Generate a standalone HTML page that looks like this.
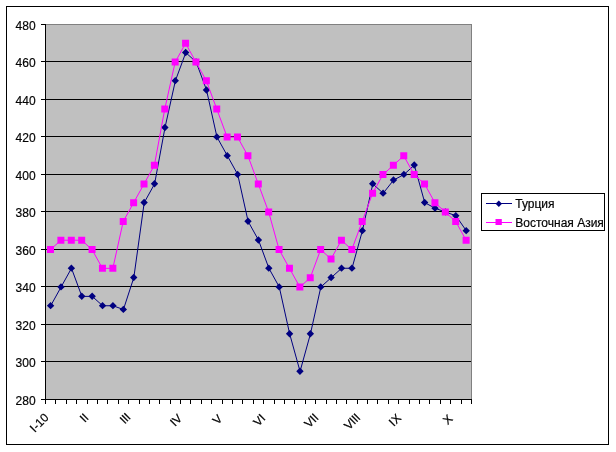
<!DOCTYPE html>
<html><head><meta charset="utf-8"><style>
html,body{margin:0;padding:0;background:#fff;width:616px;height:452px;overflow:hidden}
svg{display:block}
svg text{opacity:0.99}
svg{will-change:transform}
</style></head><body><svg width="616" height="452" viewBox="0 0 616 452"><rect x="0" y="0" width="616" height="452" fill="#fff"/><rect x="6.5" y="6.5" width="602" height="438" fill="#fff" stroke="#000" stroke-width="1"/><rect x="45" y="24" width="427" height="375" fill="#c0c0c0"/><path d="M45 24.5H471.5V399" fill="none" stroke="#808080" stroke-width="1" shape-rendering="crispEdges"/><path d="M45 61.5H471 M45 99.5H471 M45 136.5H471 M45 174.5H471 M45 211.5H471 M45 249.5H471 M45 286.5H471 M45 324.5H471 M45 361.5H471" stroke="#000" stroke-width="1" shape-rendering="crispEdges"/><path d="M45.5 24V404 M41 24.5H45 M41 61.5H45 M41 99.5H45 M41 136.5H45 M41 174.5H45 M41 211.5H45 M41 249.5H45 M41 286.5H45 M41 324.5H45 M41 361.5H45 M41 399.5H45 M45 399.5H472 M45.5 399V404 M55.5 399V404 M66.5 399V404 M76.5 399V404 M87.5 399V404 M97.5 399V404 M107.5 399V404 M118.5 399V404 M128.5 399V404 M139.5 399V404 M149.5 399V404 M159.5 399V404 M170.5 399V404 M180.5 399V404 M190.5 399V404 M201.5 399V404 M211.5 399V404 M222.5 399V404 M232.5 399V404 M242.5 399V404 M253.5 399V404 M263.5 399V404 M274.5 399V404 M284.5 399V404 M294.5 399V404 M305.5 399V404 M315.5 399V404 M326.5 399V404 M336.5 399V404 M346.5 399V404 M357.5 399V404 M367.5 399V404 M377.5 399V404 M388.5 399V404 M398.5 399V404 M409.5 399V404 M419.5 399V404 M429.5 399V404 M440.5 399V404 M450.5 399V404 M461.5 399V404 M471.5 399V404" stroke="#000" stroke-width="1" shape-rendering="crispEdges" fill="none"/><text x="35.6" y="29.5" text-anchor="end" style="font-family:'Liberation Sans',sans-serif;font-size:12px;stroke:#000;stroke-width:0.2px">480</text><text x="35.6" y="66.5" text-anchor="end" style="font-family:'Liberation Sans',sans-serif;font-size:12px;stroke:#000;stroke-width:0.2px">460</text><text x="35.6" y="104.5" text-anchor="end" style="font-family:'Liberation Sans',sans-serif;font-size:12px;stroke:#000;stroke-width:0.2px">440</text><text x="35.6" y="141.5" text-anchor="end" style="font-family:'Liberation Sans',sans-serif;font-size:12px;stroke:#000;stroke-width:0.2px">420</text><text x="35.6" y="179.5" text-anchor="end" style="font-family:'Liberation Sans',sans-serif;font-size:12px;stroke:#000;stroke-width:0.2px">400</text><text x="35.6" y="216.5" text-anchor="end" style="font-family:'Liberation Sans',sans-serif;font-size:12px;stroke:#000;stroke-width:0.2px">380</text><text x="35.6" y="254.5" text-anchor="end" style="font-family:'Liberation Sans',sans-serif;font-size:12px;stroke:#000;stroke-width:0.2px">360</text><text x="35.6" y="291.5" text-anchor="end" style="font-family:'Liberation Sans',sans-serif;font-size:12px;stroke:#000;stroke-width:0.2px">340</text><text x="35.6" y="329.5" text-anchor="end" style="font-family:'Liberation Sans',sans-serif;font-size:12px;stroke:#000;stroke-width:0.2px">320</text><text x="35.6" y="366.5" text-anchor="end" style="font-family:'Liberation Sans',sans-serif;font-size:12px;stroke:#000;stroke-width:0.2px">300</text><text x="35.6" y="404.5" text-anchor="end" style="font-family:'Liberation Sans',sans-serif;font-size:12px;stroke:#000;stroke-width:0.2px">280</text><text transform="translate(49.5,418.3) rotate(-45)" text-anchor="end" style="font-family:'Liberation Sans',sans-serif;font-size:12px;stroke:#000;stroke-width:0.2px;letter-spacing:0px">I-10</text><text transform="translate(89.1,418.6) rotate(-45)" text-anchor="end" style="font-family:'Liberation Sans',sans-serif;font-size:12px;stroke:#000;stroke-width:0.2px;letter-spacing:-0.3px">II</text><text transform="translate(131.1,418.0) rotate(-45)" text-anchor="end" style="font-family:'Liberation Sans',sans-serif;font-size:12px;stroke:#000;stroke-width:0.2px;letter-spacing:-0.3px">III</text><text transform="translate(183.0,419.0) rotate(-45)" text-anchor="end" style="font-family:'Liberation Sans',sans-serif;font-size:12px;stroke:#000;stroke-width:0.2px;letter-spacing:0px">IV</text><text transform="translate(223.1,419.5) rotate(-45)" text-anchor="end" style="font-family:'Liberation Sans',sans-serif;font-size:12px;stroke:#000;stroke-width:0.2px;letter-spacing:0px">V</text><text transform="translate(266.2,418.9) rotate(-45)" text-anchor="end" style="font-family:'Liberation Sans',sans-serif;font-size:12px;stroke:#000;stroke-width:0.2px;letter-spacing:0px">VI</text><text transform="translate(319.1,418.7) rotate(-45)" text-anchor="end" style="font-family:'Liberation Sans',sans-serif;font-size:12px;stroke:#000;stroke-width:0.2px;letter-spacing:-0.3px">VII</text><text transform="translate(360.8,418.5) rotate(-45)" text-anchor="end" style="font-family:'Liberation Sans',sans-serif;font-size:12px;stroke:#000;stroke-width:0.2px;letter-spacing:-0.3px">VIII</text><text transform="translate(401.8,418.9) rotate(-45)" text-anchor="end" style="font-family:'Liberation Sans',sans-serif;font-size:12px;stroke:#000;stroke-width:0.2px;letter-spacing:0px">IX</text><text transform="translate(453.3,419.5) rotate(-45)" text-anchor="end" style="font-family:'Liberation Sans',sans-serif;font-size:12px;stroke:#000;stroke-width:0.2px;letter-spacing:0px">X</text><polyline points="50.70,305.75 61.09,287.00 71.48,268.25 81.87,296.38 92.26,296.38 102.65,305.75 113.04,305.75 123.43,309.50 133.82,277.62 144.21,202.62 154.60,183.88 164.99,127.62 175.38,80.75 185.77,52.62 196.16,62.00 206.55,90.12 216.94,137.00 227.33,155.75 237.72,174.50 248.11,221.38 258.50,240.12 268.89,268.25 279.28,287.00 289.67,333.88 300.06,371.38 310.45,333.88 320.84,287.00 331.23,277.62 341.62,268.25 352.01,268.25 362.40,230.75 372.79,183.88 383.18,193.25 393.57,180.12 403.96,174.50 414.35,165.12 424.74,202.62 435.13,208.25 445.52,212.00 455.91,215.75 466.30,230.75" fill="none" stroke="#000080" stroke-width="1"/><path d="M50.60 301.95L54.30 305.65L50.60 309.35L46.90 305.65ZM60.99 283.20L64.69 286.90L60.99 290.60L57.29 286.90ZM71.38 264.45L75.08 268.15L71.38 271.85L67.68 268.15ZM81.77 292.57L85.47 296.27L81.77 299.97L78.07 296.27ZM92.16 292.57L95.86 296.27L92.16 299.97L88.46 296.27ZM102.55 301.95L106.25 305.65L102.55 309.35L98.85 305.65ZM112.94 301.95L116.64 305.65L112.94 309.35L109.24 305.65ZM123.33 305.70L127.03 309.40L123.33 313.10L119.63 309.40ZM133.72 273.82L137.42 277.52L133.72 281.22L130.02 277.52ZM144.11 198.83L147.81 202.53L144.11 206.22L140.41 202.53ZM154.50 180.08L158.20 183.78L154.50 187.47L150.80 183.78ZM164.89 123.83L168.59 127.53L164.89 131.22L161.19 127.53ZM175.28 76.95L178.98 80.65L175.28 84.35L171.58 80.65ZM185.67 48.82L189.37 52.52L185.67 56.23L181.97 52.52ZM196.06 58.20L199.76 61.90L196.06 65.60L192.36 61.90ZM206.45 86.33L210.15 90.03L206.45 93.73L202.75 90.03ZM216.84 133.20L220.54 136.90L216.84 140.60L213.14 136.90ZM227.23 151.95L230.93 155.65L227.23 159.35L223.53 155.65ZM237.62 170.70L241.32 174.40L237.62 178.10L233.92 174.40ZM248.01 217.58L251.71 221.28L248.01 224.97L244.31 221.28ZM258.40 236.33L262.10 240.03L258.40 243.72L254.70 240.03ZM268.79 264.45L272.49 268.15L268.79 271.85L265.09 268.15ZM279.18 283.20L282.88 286.90L279.18 290.60L275.48 286.90ZM289.57 330.07L293.27 333.77L289.57 337.47L285.87 333.77ZM299.96 367.57L303.66 371.27L299.96 374.97L296.26 371.27ZM310.35 330.07L314.05 333.77L310.35 337.47L306.65 333.77ZM320.74 283.20L324.44 286.90L320.74 290.60L317.04 286.90ZM331.13 273.82L334.83 277.52L331.13 281.22L327.43 277.52ZM341.52 264.45L345.22 268.15L341.52 271.85L337.82 268.15ZM351.91 264.45L355.61 268.15L351.91 271.85L348.21 268.15ZM362.30 226.95L366.00 230.65L362.30 234.35L358.60 230.65ZM372.69 180.08L376.39 183.78L372.69 187.47L368.99 183.78ZM383.08 189.45L386.78 193.15L383.08 196.85L379.38 193.15ZM393.47 176.33L397.17 180.03L393.47 183.72L389.77 180.03ZM403.86 170.70L407.56 174.40L403.86 178.10L400.16 174.40ZM414.25 161.33L417.95 165.03L414.25 168.72L410.55 165.03ZM424.64 198.83L428.34 202.53L424.64 206.22L420.94 202.53ZM435.03 204.45L438.73 208.15L435.03 211.85L431.33 208.15ZM445.42 208.20L449.12 211.90L445.42 215.60L441.72 211.90ZM455.81 211.95L459.51 215.65L455.81 219.35L452.11 215.65ZM466.20 226.95L469.90 230.65L466.20 234.35L462.50 230.65Z" fill="#000080"/><polyline points="50.50,249.60 60.89,240.22 71.28,240.22 81.67,240.22 92.06,249.60 102.45,268.35 112.84,268.35 123.23,221.47 133.62,202.72 144.01,183.97 154.40,165.22 164.79,108.97 175.18,62.10 185.57,43.35 195.96,62.10 206.35,80.85 216.74,108.97 227.13,137.10 237.52,137.10 247.91,155.85 258.30,183.97 268.69,212.10 279.08,249.60 289.47,268.35 299.86,287.10 310.25,277.73 320.64,249.60 331.03,258.98 341.42,240.22 351.81,249.60 362.20,221.47 372.59,193.35 382.98,174.60 393.37,165.22 403.76,155.85 414.15,174.60 424.54,183.97 434.93,202.72 445.32,212.10 455.71,221.47 466.10,240.22" fill="none" stroke="#ff00ff" stroke-width="1"/><path d="M47.00 246.10h7.0v7.0h-7.0ZM57.39 236.72h7.0v7.0h-7.0ZM67.78 236.72h7.0v7.0h-7.0ZM78.17 236.72h7.0v7.0h-7.0ZM88.56 246.10h7.0v7.0h-7.0ZM98.95 264.85h7.0v7.0h-7.0ZM109.34 264.85h7.0v7.0h-7.0ZM119.73 217.97h7.0v7.0h-7.0ZM130.12 199.22h7.0v7.0h-7.0ZM140.51 180.47h7.0v7.0h-7.0ZM150.90 161.72h7.0v7.0h-7.0ZM161.29 105.47h7.0v7.0h-7.0ZM171.68 58.60h7.0v7.0h-7.0ZM182.07 39.85h7.0v7.0h-7.0ZM192.46 58.60h7.0v7.0h-7.0ZM202.85 77.35h7.0v7.0h-7.0ZM213.24 105.47h7.0v7.0h-7.0ZM223.63 133.60h7.0v7.0h-7.0ZM234.02 133.60h7.0v7.0h-7.0ZM244.41 152.35h7.0v7.0h-7.0ZM254.80 180.47h7.0v7.0h-7.0ZM265.19 208.60h7.0v7.0h-7.0ZM275.58 246.10h7.0v7.0h-7.0ZM285.97 264.85h7.0v7.0h-7.0ZM296.36 283.60h7.0v7.0h-7.0ZM306.75 274.23h7.0v7.0h-7.0ZM317.14 246.10h7.0v7.0h-7.0ZM327.53 255.48h7.0v7.0h-7.0ZM337.92 236.72h7.0v7.0h-7.0ZM348.31 246.10h7.0v7.0h-7.0ZM358.70 217.97h7.0v7.0h-7.0ZM369.09 189.85h7.0v7.0h-7.0ZM379.48 171.10h7.0v7.0h-7.0ZM389.87 161.72h7.0v7.0h-7.0ZM400.26 152.35h7.0v7.0h-7.0ZM410.65 171.10h7.0v7.0h-7.0ZM421.04 180.47h7.0v7.0h-7.0ZM431.43 199.22h7.0v7.0h-7.0ZM441.82 208.60h7.0v7.0h-7.0ZM452.21 217.97h7.0v7.0h-7.0ZM462.60 236.72h7.0v7.0h-7.0Z" fill="#ff00ff"/><rect x="481.5" y="193.5" width="123" height="37" fill="#fff" stroke="#000" stroke-width="1"/><path d="M486 203.5H512" stroke="#000080" stroke-width="1" shape-rendering="crispEdges"/><path d="M498.8 200.6L502 203.8L498.8 207L495.6 203.8Z" fill="#000080"/><path d="M486 222.5H512" stroke="#ff00ff" stroke-width="1" shape-rendering="crispEdges"/><rect x="495.5" y="219" width="6.3" height="6" fill="#ff00ff"/><text x="515.3" y="207.6" style="font-family:'Liberation Sans',sans-serif;font-size:12px;stroke:#000;stroke-width:0.2px;letter-spacing:0px">Турция</text><text x="515.3" y="226.6" style="font-family:'Liberation Sans',sans-serif;font-size:12px;stroke:#000;stroke-width:0.2px;letter-spacing:0px">Восточная Азия</text></svg></body></html>
